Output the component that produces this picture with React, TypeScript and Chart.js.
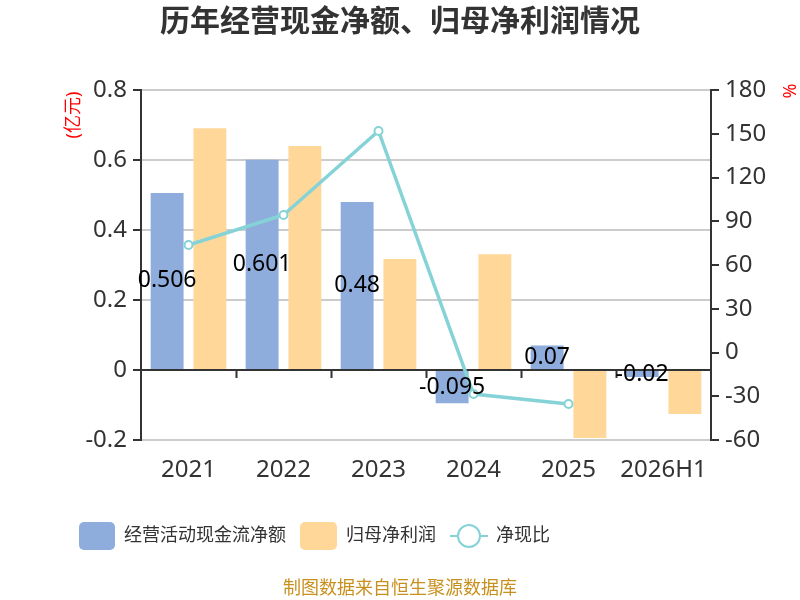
import { useEffect, useRef } from 'react';
import { Chart, registerables, Plugin } from 'chart.js';

Chart.register(...registerables);

const categories = ['2021', '2022', '2023', '2024', '2025', '2026H1'];
const cashFlow = [0.506, 0.601, 0.48, -0.095, 0.07, -0.02];
const netProfit = [0.691, 0.64, 0.317, 0.331, -0.194, -0.126];
const cashRatio = [73.7, 94.3, 151.9, -28.5, -35.3, null];

const FONT = '"Noto Sans", "Noto Sans CJK SC", sans-serif';
const BLUE = '#8eaddc';
const ORANGE = '#ffd899';
const TEAL = '#86d3d7';
const AXIS = '#333333';

const extras: Plugin = {
  id: 'extras',
  beforeDatasetsDraw(chart) {
    const { ctx, chartArea } = chart;
    const y = chart.scales.y.getPixelForValue(0);
    const x = chart.scales.x;
    ctx.save();
    ctx.strokeStyle = AXIS;
    ctx.lineWidth = 2;
    ctx.beginPath();
    ctx.moveTo(chartArea.left, y);
    ctx.lineTo(chartArea.right, y);
    const step = (chartArea.right - chartArea.left) / categories.length;
    for (let i = 1; i < categories.length; i++) {
      const px = Math.round(x.left + step * i) + 0.5;
      ctx.moveTo(px, y);
      ctx.lineTo(px, y + 8);
    }
    ctx.stroke();
    ctx.restore();
  },
  afterDatasetsDraw(chart) {
    const { ctx } = chart;
    const meta = chart.getDatasetMeta(1);
    ctx.save();
    ctx.font = `23px ${FONT}`;
    ctx.fillStyle = '#000';
    ctx.textAlign = 'center';
    ctx.textBaseline = 'middle';
    meta.data.forEach((bar: any, i) => {
      ctx.fillText(String(cashFlow[i]), bar.x, (bar.y + bar.base) / 2);
    });
    ctx.restore();
  },
  afterDraw(chart) {
    const { ctx } = chart;
    ctx.save();
    // title
    ctx.fillStyle = '#333';
    ctx.font = `bold 30px ${FONT}`;
    ctx.textAlign = 'center';
    ctx.textBaseline = 'middle';
    ctx.fillText('历年经营现金净额、归母净利润情况', 400, 22);

    // axis names
    ctx.fillStyle = '#ff0000';
    ctx.font = `18px ${FONT}`;
    ctx.save();
    ctx.translate(74, 115);
    ctx.rotate(-Math.PI / 2);
    ctx.fillText('(亿元)', 0, 0);
    ctx.restore();
    ctx.save();
    ctx.translate(788, 91);
    ctx.rotate(Math.PI / 2);
    ctx.fillText('%', 0, 0);
    ctx.restore();

    // legend
    const ly = 536;
    ctx.font = `18px ${FONT}`;
    ctx.textAlign = 'left';
    ctx.fillStyle = BLUE;
    ctx.beginPath();
    ctx.roundRect(79, ly - 14, 36, 28, 5);
    ctx.fill();
    ctx.fillStyle = '#333';
    ctx.fillText('经营活动现金流净额', 124, ly);
    ctx.fillStyle = ORANGE;
    ctx.beginPath();
    ctx.roundRect(300, ly - 14, 37, 28, 5);
    ctx.fill();
    ctx.fillStyle = '#333';
    ctx.fillText('归母净利润', 346, ly);
    ctx.strokeStyle = TEAL;
    ctx.lineWidth = 2;
    ctx.beginPath();
    ctx.moveTo(450, ly);
    ctx.lineTo(488, ly);
    ctx.stroke();
    ctx.fillStyle = '#fff';
    ctx.beginPath();
    ctx.arc(469, ly, 11, 0, Math.PI * 2);
    ctx.fill();
    ctx.stroke();
    ctx.fillStyle = '#333';
    ctx.fillText('净现比', 496, ly);

    // source
    ctx.fillStyle = '#c8901e';
    ctx.font = `18px ${FONT}`;
    ctx.textAlign = 'center';
    ctx.fillText('制图数据来自恒生聚源数据库', 400, 589);
    ctx.restore();
  },
};

export default function App() {
  const canvasRef = useRef<HTMLCanvasElement | null>(null);
  const chartRef = useRef<Chart | null>(null);

  useEffect(() => {
    document.body.style.margin = '0';
    if (!canvasRef.current) return undefined;

    chartRef.current?.destroy();
    chartRef.current = new Chart(canvasRef.current, {
      type: 'bar',
      data: {
        labels: categories,
        datasets: [
          {
            type: 'line',
            label: '净现比',
            data: cashRatio,
            yAxisID: 'y1',
            borderColor: TEAL,
            borderWidth: 3.5,
            pointRadius: 4,
            pointBorderWidth: 2,
            pointBackgroundColor: '#fff',
            pointBorderColor: TEAL,
            spanGaps: false,
            order: 0,
          } as any,
          {
            label: '经营活动现金流净额',
            data: cashFlow,
            backgroundColor: BLUE,
            yAxisID: 'y',
            order: 1,
          },
          {
            label: '归母净利润',
            data: netProfit,
            backgroundColor: ORANGE,
            yAxisID: 'y',
            order: 1,
          },
        ],
      },
      options: {
        animation: false,
        responsive: false,
        devicePixelRatio: 1,
        layout: { padding: { top: 90, bottom: 120, left: 0, right: 0 } },
        datasets: { bar: { categoryPercentage: 0.9, barPercentage: 0.77 } },
        plugins: {
          legend: { display: false },
          title: { display: false },
          tooltip: { enabled: false },
        },
        scales: {
          x: {
            grid: { display: false },
            border: { display: false },
            ticks: { color: AXIS, font: { size: 24, family: FONT }, padding: 8 },
            afterFit(scale) {
              scale.height = 40;
            },
          },
          y: {
            position: 'left',
            min: -0.2,
            max: 0.8,
            ticks: {
              stepSize: 0.2,
              color: AXIS,
              font: { size: 24, family: FONT },
              padding: 6,
              callback: (v) => String(Number(Number(v).toFixed(1))),
            },
            grid: { color: '#cccccc', lineWidth: 2, tickColor: AXIS, tickLength: 8 },
            border: { color: AXIS, width: 2 },
            afterFit(scale) {
              scale.width = 141;
            },
          },
          y1: {
            position: 'right',
            min: -60,
            max: 180,
            ticks: {
              stepSize: 30,
              color: AXIS,
              font: { size: 24, family: FONT },
              padding: 6,
            },
            grid: { drawOnChartArea: false, tickColor: AXIS, tickLength: 8, lineWidth: 2 },
            border: { color: AXIS, width: 2 },
            afterFit(scale) {
              scale.width = 89;
            },
          },
        },
      },
      plugins: [extras],
    });

    return () => {
      chartRef.current?.destroy();
      chartRef.current = null;
    };
  }, []);

  return (
    <div style={{ width: 800, height: 600, background: '#fff' }}>
      <canvas ref={canvasRef} width={800} height={600} />
    </div>
  );
}
